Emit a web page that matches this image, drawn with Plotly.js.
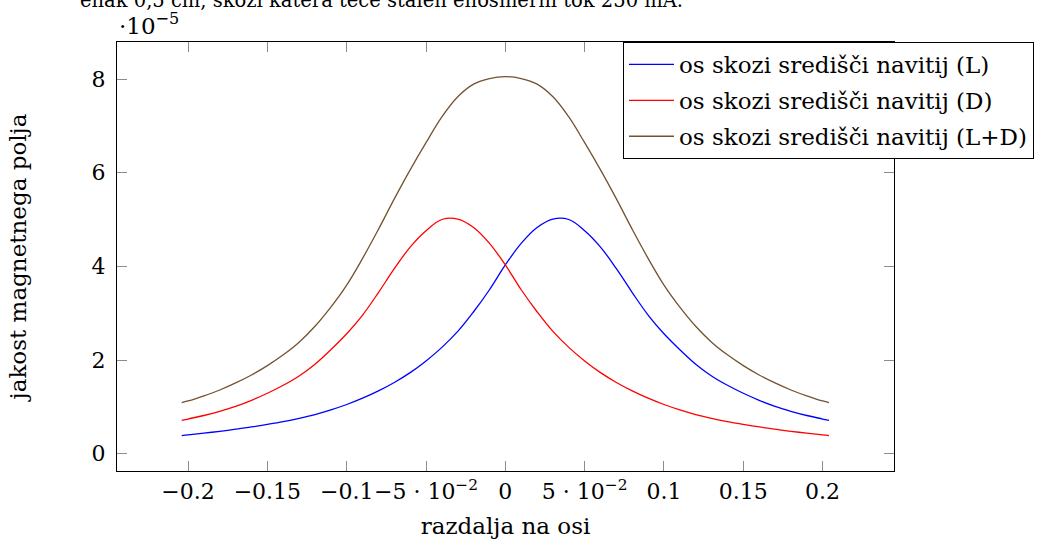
<!DOCTYPE html>
<html>
<head>
<meta charset="utf-8">
<script src="https://cdn.plot.ly/plotly-3.0.1.min.js"></script>
<style>
  html, body { margin: 0; padding: 0; background: #fff; }
  #chart { width: 1040px; height: 544px; }
</style>
</head>
<body>
<div id="chart"></div>
<script>
// Distance along the axis (m)
const razdalja = [-0.204, -0.20, -0.19, -0.18, -0.17, -0.16, -0.15, -0.14, -0.13, -0.12, -0.11,
  -0.10, -0.09, -0.08, -0.07, -0.06, -0.05, -0.04, -0.03, -0.02, -0.01, 0,
  0.01, 0.02, 0.03, 0.04, 0.05, 0.06, 0.07, 0.08, 0.09, 0.10, 0.11, 0.12, 0.13,
  0.14, 0.15, 0.16, 0.17, 0.18, 0.19, 0.20, 0.204];

// Field strength, in units of 1e-5
const navitjeL = [0.387, 0.40, 0.437, 0.478, 0.522, 0.57, 0.625, 0.685, 0.755, 0.835, 0.935,
  1.05, 1.185, 1.34, 1.52, 1.73, 1.98, 2.27, 2.61, 3.03, 3.50, 4.03,
  4.49, 4.83, 5.01, 5.00, 4.76, 4.41, 3.95, 3.44, 2.96, 2.56, 2.22, 1.91, 1.66,
  1.46, 1.29, 1.14, 1.01, 0.905, 0.815, 0.74, 0.71];

const navitjeD = [0.71, 0.74, 0.815, 0.905, 1.01, 1.14, 1.29, 1.46, 1.66, 1.91, 2.22,
  2.56, 2.96, 3.44, 3.95, 4.41, 4.76, 5.00, 5.01, 4.83, 4.49, 4.03,
  3.50, 3.03, 2.61, 2.27, 1.98, 1.73, 1.52, 1.34, 1.185, 1.05, 0.935, 0.835, 0.755,
  0.685, 0.625, 0.57, 0.522, 0.478, 0.437, 0.40, 0.387];

const navitjeLD = [1.09, 1.125, 1.235, 1.36, 1.51, 1.68, 1.88, 2.11, 2.38, 2.72, 3.13,
  3.60, 4.17, 4.79, 5.44, 6.06, 6.64, 7.19, 7.62, 7.89, 8.01, 8.05,
  8.01, 7.89, 7.62, 7.19, 6.64, 6.06, 5.44, 4.79, 4.17, 3.60, 3.13, 2.72, 2.38,
  2.11, 1.88, 1.68, 1.51, 1.36, 1.235, 1.125, 1.09];

const seriesNames = ['os skozi središči navitij (L)', 'os skozi središči navitij (D)', 'os skozi središči navitij (L+D)'];
const seriesColors = ['#0000ff', '#ff0000', '#73522f'];

const xTickVals = [-0.2, -0.15, -0.1, -0.05, 0, 0.05, 0.1, 0.15, 0.2];
const xTickText = ['−0.2', '−0.15', '−0.1', '−5 · 10<sup>−2</sup>', '0', '5 · 10<sup>−2</sup>', '0.1', '0.15', '0.2'];
const yTickVals = [0, 2, 4, 6, 8];
const yTickText = ['0', '2', '4', '6', '8'];

const FONT = 'DejaVu Serif, Liberation Serif, serif';
const FS = 23;

const ys = [navitjeL, navitjeD, navitjeLD];
const traces = ys.map((y, i) => ({
  type: 'scatter',
  mode: 'lines',
  x: razdalja,
  y: y,
  name: seriesNames[i],
  legendgroup: 'g' + i,
  line: { color: seriesColors[i], width: 1.3, shape: 'spline', smoothing: 1.1 }
}));

const axisCommon = {
  showline: true,
  linecolor: '#000',
  linewidth: 1,
  mirror: 'ticks',
  ticks: 'inside',
  ticklen: 10,
  tickwidth: 1,
  tickcolor: '#8c8c8c',
  showgrid: false,
  zeroline: false,
  tickfont: { family: FONT, size: 22, color: '#000' },
  automargin: false
};

const layout = {
  width: 1040,
  height: 544,
  margin: { l: 117, r: 146, t: 42, b: 73, autoexpand: false },
  paper_bgcolor: '#fff',
  plot_bgcolor: '#fff',
  font: { family: FONT, size: FS, color: '#000' },
  xaxis: Object.assign({}, axisCommon, {
    range: [-0.2448, 0.2450],
    tickmode: 'array',
    tickvals: xTickVals,
    ticktext: xTickText,
    tickangle: 0,
    ticklabelstandoff: 1,
    title: { text: 'razdalja na osi', font: { family: FONT, size: FS, color: '#000' }, standoff: 14 }
  }),
  yaxis: Object.assign({}, axisCommon, {
    range: [-0.37, 8.79],
    tickmode: 'array',
    tickvals: yTickVals,
    ticktext: yTickText,
    ticklabelstandoff: 6,
    title: { text: 'jakost magnetnega polja', font: { family: FONT, size: FS, color: '#000' }, standoff: 58 }
  }),
  showlegend: true,
  legend: {
    x: (623 - 117) / 777, xanchor: 'left',
    y: 1, yanchor: 'top',
    bgcolor: '#fff',
    bordercolor: '#000',
    borderwidth: 1,
    font: { family: FONT, size: FS, color: '#000' },
    tracegroupgap: 3,
    itemwidth: 45
  },
  annotations: [
    {
      xref: 'paper', yref: 'paper',
      x: 0, y: 1, xanchor: 'left', yanchor: 'bottom', yshift: 1,
      text: '·10<sup>−5</sup>', showarrow: false,
      font: { family: FONT, size: FS, color: '#000' }
    },
    {
      xref: 'paper', yref: 'paper',
      x: (685 - 117) / 777, y: 1 + (42 - 14) / 429, xanchor: 'right', yanchor: 'bottom',
      text: 'enak 0,5 cm, skozi katera teče stalen enosmerni tok 250 mA.', showarrow: false,
      font: { family: FONT, size: 19.5, color: '#000' }
    }
  ]
};

Plotly.newPlot('chart', traces, layout, { displayModeBar: false, staticPlot: true });
</script>
</body>
</html>
